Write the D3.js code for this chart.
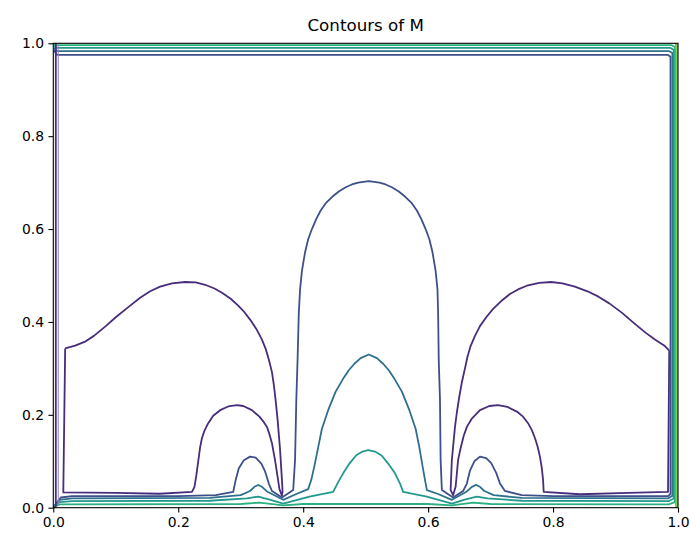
<!DOCTYPE html>
<html>
<head>
<meta charset="utf-8">
<script src="https://cdn.jsdelivr.net/npm/d3@7"></script>
<style>
  body { margin: 0; background: #fff; }
  svg { font-family: "DejaVu Sans", sans-serif; }
</style>
</head>
<body>
<svg width="690" height="535"></svg>
<script>
// tick values
var xTicks = [0.0, 0.2, 0.4, 0.6, 0.8, 1.0];
var yTicks = [0.0, 0.2, 0.4, 0.6, 0.8, 1.0];

// contour polylines, [x, y] in data units
// level 1 (purple): two closed loops + the left edge line
var level1Left = [[0.019,0.343],[0.035,0.349],[0.050,0.357],[0.065,0.370],[0.083,0.390],[0.100,0.410],
  [0.120,0.432],[0.139,0.452],[0.155,0.466],[0.171,0.476],[0.190,0.483],[0.211,0.486],[0.228,0.485],
  [0.243,0.480],[0.258,0.472],[0.270,0.463],[0.284,0.450],[0.296,0.435],[0.306,0.421],[0.315,0.405],
  [0.325,0.385],[0.334,0.362],[0.340,0.342],[0.345,0.319],[0.350,0.292],[0.353,0.265],[0.356,0.230],
  [0.359,0.190],[0.363,0.125],[0.366,0.060],[0.367,0.035],[0.366,0.026],
  [0.362,0.040],[0.359,0.067],[0.355,0.102],[0.350,0.139],[0.346,0.158],[0.342,0.174],[0.336,0.186],
  [0.330,0.196],[0.318,0.210],[0.304,0.219],[0.294,0.221],[0.280,0.218],[0.267,0.210],[0.256,0.198],
  [0.248,0.182],[0.242,0.166],[0.238,0.150],[0.235,0.130],[0.233,0.110],[0.229,0.070],[0.226,0.045],
  [0.222,0.034],[0.170,0.030],[0.100,0.032],[0.016,0.033],[0.019,0.343]];
var level1Right = [[0.986,0.338],[0.979,0.348],[0.963,0.362],[0.948,0.377],[0.930,0.397],[0.910,0.420],
  [0.890,0.440],[0.872,0.455],[0.855,0.466],[0.835,0.476],[0.815,0.483],[0.797,0.486],[0.778,0.484],
  [0.758,0.478],[0.744,0.470],[0.731,0.460],[0.717,0.445],[0.704,0.428],[0.693,0.410],[0.683,0.391],
  [0.675,0.370],[0.668,0.348],[0.663,0.325],[0.659,0.300],[0.654,0.270],[0.650,0.240],[0.646,0.205],
  [0.643,0.174],[0.638,0.103],[0.636,0.038],[0.640,0.027],[0.644,0.045],
  [0.648,0.103],[0.652,0.128],[0.657,0.155],[0.662,0.174],[0.670,0.192],[0.683,0.210],[0.698,0.219],
  [0.712,0.221],[0.727,0.217],[0.742,0.207],[0.752,0.196],[0.760,0.182],[0.766,0.167],[0.771,0.150],
  [0.775,0.133],[0.779,0.110],[0.782,0.085],[0.784,0.060],[0.785,0.034],
  [0.843,0.029],[0.920,0.032],[0.984,0.034],[0.986,0.338]];
var level1Edge = [[0.004,1.0],[0.004,0.004],[0.002,0.0]];
var level1Edge2 = [[0.008,0.995],[0.008,0.005]];

// level 2 (indigo): big arch, small bumps, bottom / right / top
var level2 = [[0.000,0.001],[0.012,0.022],[0.030,0.025],[0.200,0.025],[0.260,0.027],[0.288,0.034],
  [0.292,0.060],[0.297,0.085],[0.305,0.102],[0.315,0.110],[0.324,0.108],[0.333,0.095],[0.339,0.078],
  [0.345,0.052],[0.350,0.036],[0.366,0.022],[0.384,0.038],[0.387,0.103],[0.389,0.232],[0.391,0.318],
  [0.393,0.420],[0.395,0.470],[0.398,0.510],[0.403,0.550],[0.408,0.578],[0.414,0.600],[0.421,0.622],
  [0.428,0.640],[0.437,0.657],[0.447,0.670],[0.457,0.681],[0.468,0.690],[0.478,0.696],[0.488,0.700],
  [0.505,0.703],[0.522,0.700],[0.532,0.696],[0.542,0.690],[0.553,0.681],[0.563,0.670],[0.573,0.657],
  [0.582,0.640],[0.589,0.622],[0.596,0.600],[0.602,0.578],[0.607,0.550],[0.612,0.510],[0.615,0.470],
  [0.616,0.420],[0.617,0.318],[0.619,0.232],[0.620,0.103],[0.622,0.038],[0.640,0.022],[0.656,0.036],
  [0.662,0.052],[0.667,0.080],[0.674,0.100],[0.683,0.110],[0.693,0.107],[0.701,0.096],[0.709,0.075],
  [0.715,0.052],[0.723,0.036],[0.750,0.027],[0.800,0.025],[0.984,0.025],[0.988,0.030],[0.988,0.971],
  [0.984,0.975],[0.006,0.975],[0.001,0.985]];

// level 3 (blue): middle arch, tiny bumps
var level3 = [[0.000,0.001],[0.010,0.017],[0.030,0.020],[0.250,0.021],[0.300,0.027],[0.315,0.036],
  [0.322,0.045],[0.328,0.049],[0.334,0.045],[0.342,0.035],[0.368,0.017],[0.390,0.030],[0.408,0.040],
  [0.413,0.060],[0.418,0.090],[0.424,0.130],[0.430,0.170],[0.440,0.210],[0.452,0.250],[0.465,0.280],
  [0.473,0.296],[0.482,0.310],[0.492,0.322],[0.505,0.330],[0.518,0.322],[0.528,0.310],[0.537,0.296],
  [0.545,0.280],[0.558,0.250],[0.570,0.210],[0.580,0.170],
  [0.586,0.130],[0.591,0.090],[0.595,0.060],[0.598,0.038],[0.615,0.030],[0.638,0.017],[0.662,0.035],
  [0.670,0.045],[0.677,0.049],[0.683,0.045],[0.690,0.036],[0.705,0.027],[0.750,0.021],[0.984,0.020],
  [0.991,0.026],[0.991,0.979],[0.986,0.983],[0.006,0.983],[0.001,0.990]];

// level 4 (teal): small central arch
var level4 = [[0.000,0.001],[0.010,0.012],[0.030,0.014],[0.250,0.015],[0.310,0.020],[0.328,0.024],
  [0.345,0.018],[0.368,0.009],[0.410,0.024],[0.448,0.034],[0.456,0.055],[0.464,0.074],[0.474,0.095],
  [0.485,0.113],[0.495,0.121],[0.504,0.124],[0.515,0.121],[0.526,0.112],[0.536,0.095],[0.547,0.074],
  [0.555,0.052],[0.560,0.034],[0.598,0.024],[0.638,0.009],[0.660,0.018],[0.678,0.024],[0.695,0.020],
  [0.750,0.015],[0.985,0.014],[0.993,0.020],[0.993,0.986],[0.988,0.990],[0.006,0.990],[0.001,0.994]];

// level 5 (green-teal): along bottom, right and top
var level5 = [[0.000,0.001],[0.010,0.007],[0.300,0.008],[0.330,0.011],[0.368,0.005],[0.400,0.008],
  [0.600,0.008],[0.638,0.005],[0.672,0.011],[0.700,0.008],[0.985,0.007],[0.995,0.012],[0.995,0.992],
  [0.990,0.996],[0.006,0.996],[0.001,0.998]];

// levels 6 and 7: only along the right edge
var level6 = [[0.9968,0.0],[0.9968,1.0]];
var level7 = [[0.9988,0.0],[0.9988,1.0]];

var contours = [
  {color: "#472d7b", paths: [level1Left, level1Right]},
  {color: "#3e4f8a", paths: [level2]},
  {color: "#2e6f8e", paths: [level3]},
  {color: "#22998b", paths: [level4]},
  {color: "#2ab07f", paths: [level5]},
  {color: "#4ac16d", paths: [level6]},
  {color: "#8fd744", paths: [level7]}
];

var svg = d3.select("svg"),
    padL = 53.3, padR = 678, padT = 43.3, padB = 507.7;

var x = d3.scaleLinear().domain([0, 1]).range([padL, padR]);
var y = d3.scaleLinear().domain([0, 1]).range([padB, padT]);

var line = d3.line()
  .x(function(d) { return x(d[0]); })
  .y(function(d) { return y(d[1]); });

svg.append("defs").append("clipPath").attr("id", "clip")
  .append("rect").attr("x", padL).attr("y", padT)
  .attr("width", padR - padL).attr("height", padB - padT);

var g = svg.append("g").attr("clip-path", "url(#clip)");

contours.forEach(function(c) {
  c.paths.forEach(function(p) {
    g.append("path")
      .attr("d", line(p))
      .attr("fill", "none")
      .attr("stroke", c.color)
      .attr("stroke-width", 1.8)
      .attr("stroke-linejoin", "round");
  });
});

// purple edge lines along the left side sit on top
g.append("path").attr("d", line(level1Edge)).attr("fill", "none")
  .attr("stroke", "#472d7b").attr("stroke-width", 1.8);
g.append("path").attr("d", line(level1Edge2)).attr("fill", "none")
  .attr("stroke", "#8f82bd").attr("stroke-width", 1.3).attr("opacity", 0.8);

var fmt = d3.format(".1f");

var xAxis = svg.append("g")
  .attr("transform", "translate(0," + padB + ")")
  .call(d3.axisBottom(x).tickValues(xTicks).tickFormat(fmt).tickSize(4.9).tickPadding(4.4).tickSizeOuter(0));
var yAxis = svg.append("g")
  .attr("transform", "translate(" + padL + ",0)")
  .call(d3.axisLeft(y).tickValues(yTicks).tickFormat(fmt).tickSize(4.9).tickPadding(4.4).tickSizeOuter(0));

[xAxis, yAxis].forEach(function(a) {
  a.select(".domain").remove();
  a.selectAll("text").attr("font-size", 13.9).attr("font-family", "DejaVu Sans").attr("fill", "#000");
  a.selectAll("line").attr("stroke", "#000").attr("stroke-width", 1.1);
});

svg.append("rect")
  .attr("x", padL).attr("y", padT)
  .attr("width", padR - padL).attr("height", padB - padT)
  .attr("fill", "none").attr("stroke", "#000").attr("stroke-width", 1.1);

svg.append("text")
  .attr("x", (padL + padR) / 2)
  .attr("y", 31)
  .attr("text-anchor", "middle")
  .attr("font-size", 16.7)
  .attr("font-family", "DejaVu Sans")
  .text("Contours of M");
</script>
</body>
</html>
